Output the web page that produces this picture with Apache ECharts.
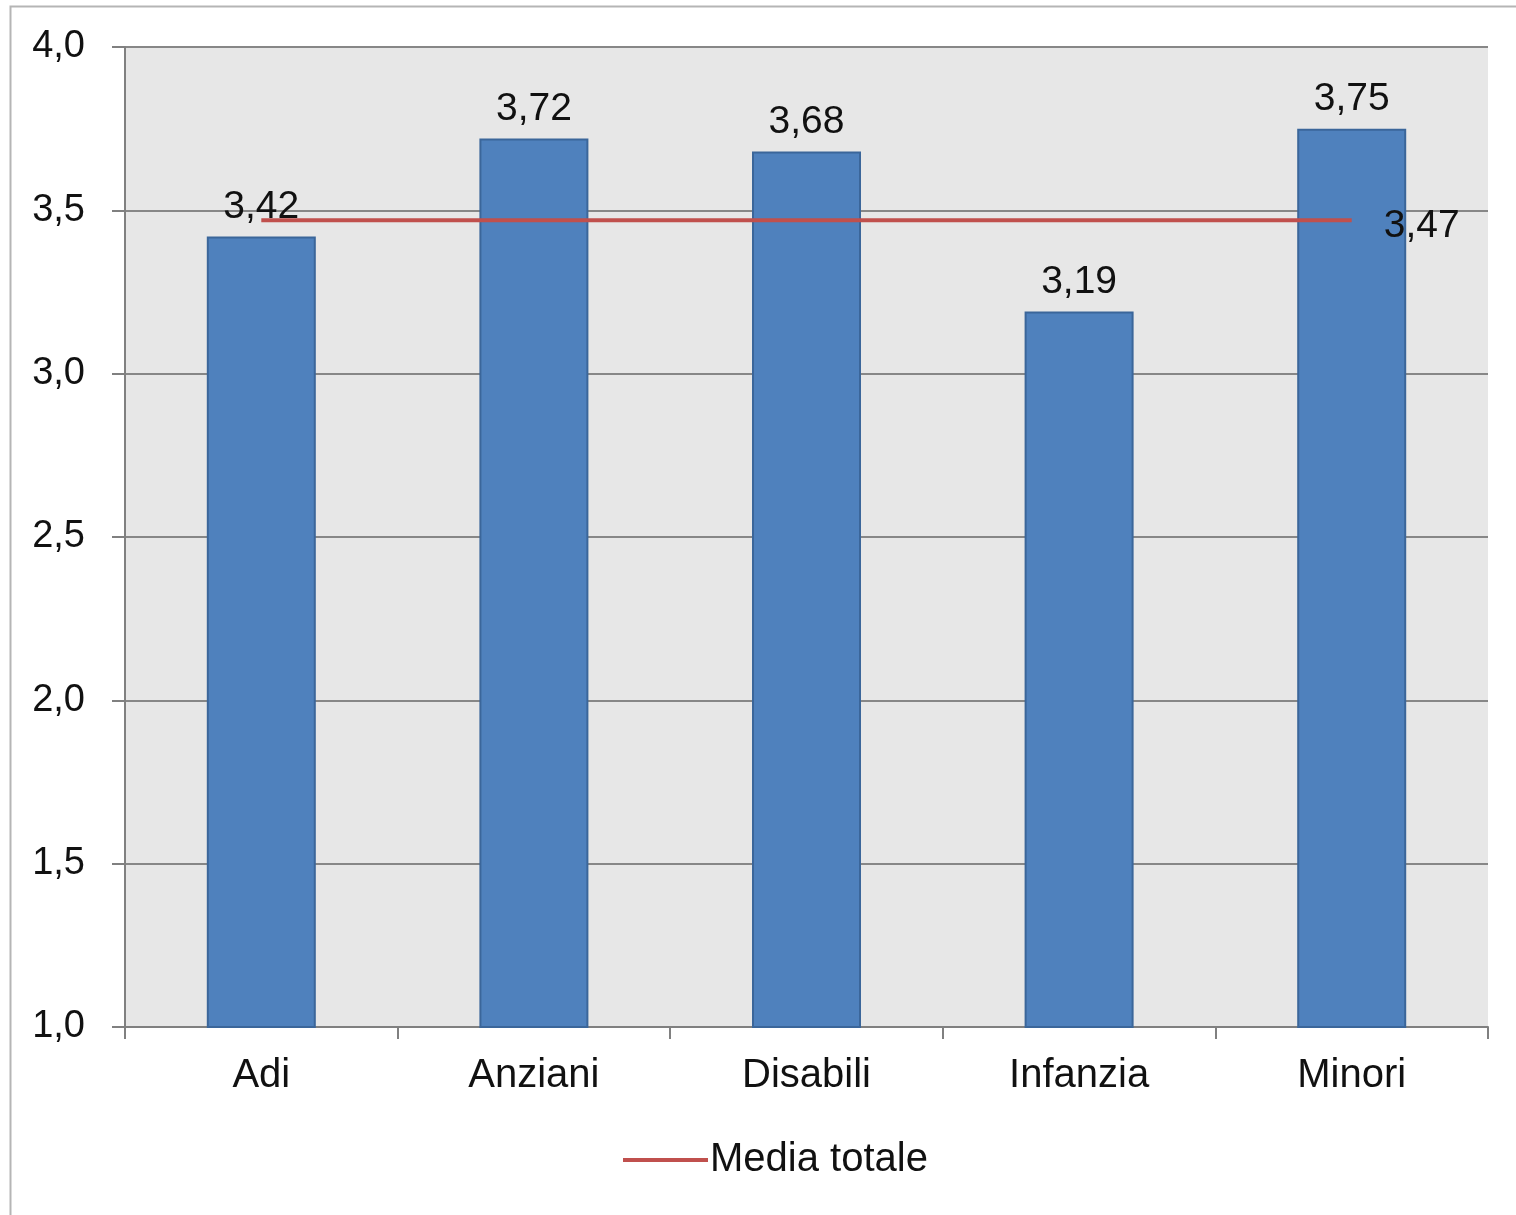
<!DOCTYPE html>
<html>
<head>
<meta charset="utf-8">
<script src="https://cdn.jsdelivr.net/npm/echarts@6/dist/echarts.min.js"></script>
<style>
html,body{margin:0;padding:0;background:#fff;}
#chart{width:1516px;height:1215px;}
</style>
</head>
<body>
<div id="chart"></div>
<script>
const categories = ['Adi', 'Anziani', 'Disabili', 'Infanzia', 'Minori'];
const barValues = [3.42, 3.72, 3.68, 3.19, 3.75];
const meanValue = 3.47;
const meanName = 'Media totale';
const yMin = 1.0, yMax = 4.0, yStep = 0.5;

const meanLine = categories.map(() => meanValue);
const fmt = v => v.toFixed(2).replace('.', ',');
const FONT = '"Liberation Sans", Arial, sans-serif';
const TXT = '#111';

const chart = echarts.init(document.getElementById('chart'));
chart.setOption({
  animation: false,
  backgroundColor: '#fff',
  graphic: [{
    type: 'rect', z: -10,
    shape: {x: 10.5, y: 6.5, width: 1530, height: 1240},
    style: {fill: 'none', stroke: '#b5b5b5', lineWidth: 2}
  }],
  grid: {left: 125, right: 28, top: 47, bottom: 188, show: true, backgroundColor: '#e7e7e7', borderWidth: 0},
  legend: {
    data: [meanName],
    bottom: 30, left: 618,
    icon: 'rect', itemWidth: 85, itemHeight: 4, itemGap: 10,
    textStyle: {fontFamily: FONT, fontSize: 40, color: TXT, padding: [0, 0, 0, -3]},
    itemStyle: {color: '#c0504d'}
  },
  xAxis: {
    type: 'category',
    data: categories,
    axisLine: {lineStyle: {color: '#808080', width: 2}},
    axisTick: {show: true, length: 12, lineStyle: {color: '#808080', width: 2}},
    axisLabel: {fontFamily: FONT, fontSize: 40, color: TXT, margin: 29},
    splitLine: {show: false}
  },
  yAxis: {
    type: 'value', min: yMin, max: yMax, interval: yStep,
    axisLine: {show: true, lineStyle: {color: '#808080', width: 2}},
    axisTick: {show: true, length: 13, lineStyle: {color: '#808080', width: 2}},
    axisLabel: {fontFamily: FONT, fontSize: 38, color: TXT, margin: 40, formatter: v => v.toFixed(1).replace('.', ',')},
    splitLine: {show: true, lineStyle: {color: '#878787', width: 2}}
  },
  series: [{
    type: 'bar',
    data: barValues,
    barWidth: 109,
    itemStyle: {color: '#4f81bd', borderColor: '#3b669a', borderWidth: 2},
    label: {show: true, position: 'top', distance: 10, fontFamily: FONT, fontSize: 39, color: TXT, formatter: p => fmt(p.value)},
    z: 2
  }, {
    type: 'line',
    name: meanName,
    data: meanLine,
    symbol: 'none',
    lineStyle: {color: '#c0504d', width: 4},
    itemStyle: {color: '#c0504d'},
    label: {show: false},
    endLabel: {show: true, fontFamily: FONT, fontSize: 39, color: TXT, distance: 32, offset: [0, 6], formatter: p => fmt(p.value)},
    z: 3
  }]
});
</script>
</body>
</html>
